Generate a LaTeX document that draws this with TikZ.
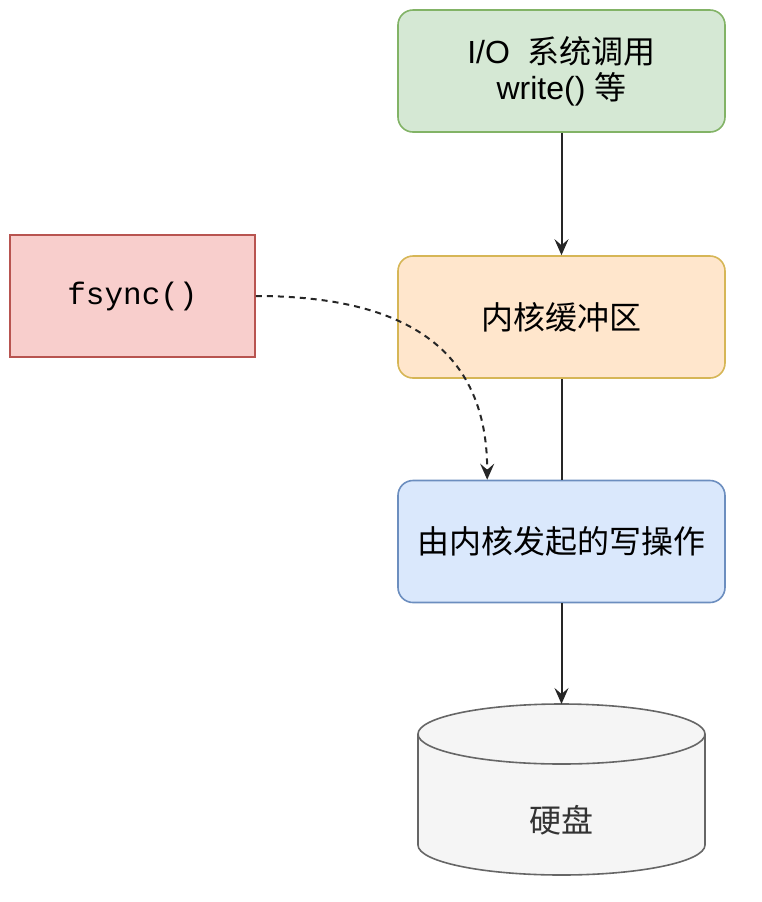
\documentclass[tikz,border=0pt]{standalone}
\usepackage{fontspec}
\setmainfont{Liberation Sans}
\setmonofont{Liberation Mono}
\newfontfamily\cjk{Noto Sans CJK SC}
\usetikzlibrary{arrows.meta}

\definecolor{callfill}{HTML}{D5E8D4}
\definecolor{callline}{HTML}{82B366}
\definecolor{syncfill}{HTML}{F8CECC}
\definecolor{syncline}{HTML}{B85450}
\definecolor{buffill}{HTML}{FFE6CC}
\definecolor{bufline}{HTML}{D6B656}
\definecolor{kwfill}{HTML}{DAE8FC}
\definecolor{kwline}{HTML}{6C8EBF}
\definecolor{diskfill}{HTML}{F5F5F5}
\definecolor{diskline}{HTML}{666666}
\definecolor{disktext}{HTML}{333333}

\begin{document}
\begin{tikzpicture}[x=0.5pt, y=-0.5pt]
        % styles
        \tikzset{
            stage/.style={draw, line width=0.8pt, rounded corners=7.5pt, minimum width=163.5pt, minimum height=61pt, inner sep=0pt, align=center, font=\fontsize{16}{18}\selectfont},
            callbox/.style={draw=syncline, fill=syncfill, line width=0.8pt, minimum width=122.5pt, minimum height=61pt, inner sep=0pt, font=\ttfamily\fontsize{15.5}{18}\selectfont},
            flow/.style={line width=1pt, draw=black!85, -{Stealth[length=8pt, width=7pt, inset=3pt]}},
            plain/.style={line width=1pt, draw=black!85},
            syncflow/.style={line width=1pt, draw=black!85, dash pattern=on 3pt off 2.5pt, -{Stealth[length=8pt, width=7pt, inset=3pt]}},
            disk/.style={draw=diskline, fill=diskfill, line width=0.8pt}
        }
        \useasboundingbox (0,0) rectangle (762,902);

        % boxes
        \node[stage, fill=callfill, draw=callline] (syscall) at (561.5,71) {I/O\ \ {\cjk 系统调用}\\write() {\cjk 等}};
        \node[stage, fill=buffill, draw=bufline] (buffer) at (561.5,317) {\cjk 内核缓冲区};
        \node[stage, fill=kwfill, draw=kwline] (kwrite) at (561.5,541.5) {\cjk 由内核发起的写操作};
        \node[callbox] (fsync) at (132.5,296) {fsync()};

        % disk
        \draw[disk] (418,734) -- (418,845) arc[start angle=180, end angle=0, x radius=143.5, y radius=30]
            -- (705,734) arc[start angle=0, end angle=-180, x radius=143.5, y radius=30] -- cycle;
        \draw[disk, fill=none] (418,734) arc[start angle=180, end angle=0, x radius=143.5, y radius=30];
        \node[font=\fontsize{16}{18}\selectfont, text=disktext] (disk) at (561.5,820) {\cjk 硬盘};
        \coordinate (disktop) at (561.5,704);

        % connectors
        \draw[flow] (syscall) -- (buffer);
        \draw[plain] (buffer) -- (kwrite);
        \draw[flow] (kwrite) -- (disktop);
        \draw[syncflow] (fsync.east) .. controls +(170,0) and +(0,-115) .. ([xshift=45pt]kwrite.north west);
    \end{tikzpicture}
\end{document}
